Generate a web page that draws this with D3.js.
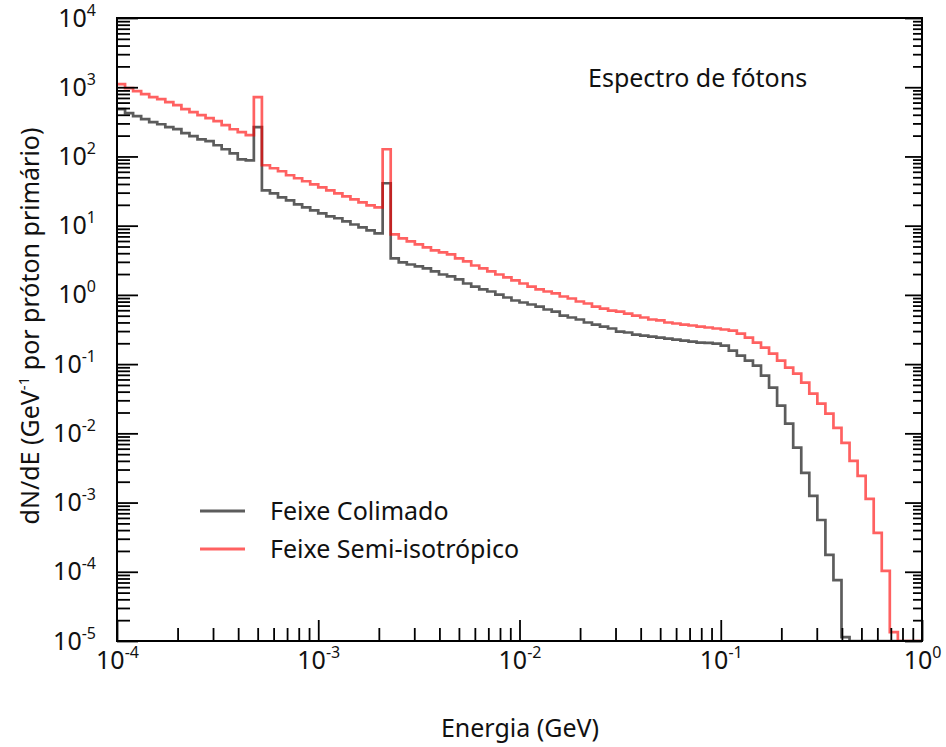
<!DOCTYPE html>
<html>
<head>
<meta charset="utf-8">
<script src="https://cdn.jsdelivr.net/npm/d3@7"></script>
<style>
    body { margin: 0; background: #fff; }
    svg text { font-family: "Noto Sans", sans-serif; fill: #111; }
</style>
</head>
<body>
<svg id="chart" width="946" height="747"></svg>
<script>
// histogram binning: 100 log-spaced bins between 1e-4 and 1 GeV
const binRange = [1e-4, 1];
const binCount = 100;

// bin contents (dN/dE per primary proton)
const colimado = [
    482, 422, 382, 345, 313, 292, 265, 248, 217, 196,
    177, 166, 145, 127, 111, 91, 88, 265, 32.4, 29.3,
    25.7, 23.2, 20.3, 18.4, 16.6, 15.1, 13.6, 12.8, 11.5, 10.4,
    9.45, 8.55, 7.74, 41, 3.36, 2.94, 2.75, 2.58, 2.41, 2.18,
    1.97, 1.85, 1.67, 1.46, 1.32, 1.20, 1.12, 1.01, 0.917, 0.830,
    0.776, 0.726, 0.679, 0.615, 0.575, 0.503, 0.471, 0.441, 0.399, 0.373,
    0.349, 0.327, 0.295, 0.286, 0.267, 0.258, 0.250, 0.242, 0.234, 0.226,
    0.219, 0.211, 0.205, 0.202, 0.198, 0.185, 0.157, 0.133, 0.112, 0.095,
    0.068, 0.0457, 0.0251, 0.0138, 0.0062, 0.00269, 0.00125, 5.6e-4, 1.75e-4, 7.6e-5,
    1.14e-5, 0, 0, 0, 0, 0, 0, 0, 0, 0
];

const semiIsotropico = [
    1109, 971, 879, 794, 719, 673, 609, 551, 482, 436,
    394, 357, 323, 283, 247, 224, 203, 719, 74.6, 67.5,
    61.1, 53.5, 48.4, 43.8, 39.6, 35.8, 32.4, 29.3, 26.5, 24.0,
    21.7, 19.7, 18.4, 127, 7.48, 6.55, 5.93, 5.36, 4.85, 4.39,
    4.10, 3.84, 3.36, 3.04, 2.66, 2.41, 2.18, 1.97, 1.79, 1.62,
    1.46, 1.32, 1.20, 1.12, 1.05, 0.948, 0.887, 0.802, 0.751, 0.679,
    0.635, 0.594, 0.575, 0.538, 0.503, 0.471, 0.441, 0.427, 0.399, 0.386,
    0.373, 0.361, 0.349, 0.338, 0.327, 0.316, 0.305, 0.276, 0.242, 0.205,
    0.173, 0.142, 0.112, 0.0889, 0.0728, 0.0539, 0.0374, 0.0268, 0.0192, 0.0120,
    0.0073, 0.00401, 0.00243, 0.00113, 3.64e-4, 1.03e-4, 1.34e-5, 0, 0, 0
];

const seriesNames = ['Feixe Colimado', 'Feixe Semi-isotrópico'];
const seriesColors = ['rgba(0,0,0,0.64)', 'rgba(255,0,0,0.62)'];
const xTickExponents = [-4, -3, -2, -1, 0];
const yTickExponents = [-5, -4, -3, -2, -1, 0, 1, 2, 3, 4];
const title = 'Espectro de fótons';

const svg = d3.select('#chart');
const frame = { left: 117, right: 922, top: 18, bottom: 641 };

const x = d3.scaleLog().domain(binRange).range([frame.left, frame.right]);
const y = d3.scaleLog().domain([1e-5, 1e4]).range([frame.bottom, frame.top]).clamp(true);

// bin edges of the histogram
const edges = d3.range(binCount + 1).map(i => binRange[0] * Math.pow(binRange[1] / binRange[0], i / binCount));

svg.append('clipPath').attr('id', 'plot-clip')
    .append('rect')
    .attr('x', frame.left).attr('y', frame.top)
    .attr('width', frame.right - frame.left).attr('height', frame.bottom - frame.top);

const step = d3.line()
    .curve(d3.curveStepAfter)
    .x(d => x(d[0]))
    .y(d => y(Math.max(d[1], 1e-7)));

[colimado, semiIsotropico].forEach((values, s) => {
    const pts = values.map((v, i) => [edges[i], v]);
    pts.push([edges[binCount], values[binCount - 1]]);
    svg.append('path')
        .datum(pts)
        .attr('clip-path', 'url(#plot-clip)')
        .attr('fill', 'none')
        .attr('stroke', seriesColors[s])
        .attr('stroke-width', 2.7)
        .attr('d', step);
});

// minor tick positions (2..9 in every decade)
const yMinor = d3.range(-5, 4).flatMap(e => d3.range(2, 10).map(m => m * Math.pow(10, e)));
const xMinor = d3.range(-4, 0).flatMap(e => d3.range(2, 10).map(m => m * Math.pow(10, e)));
const yMajor = yTickExponents.map(e => Math.pow(10, e));
const xMajor = xTickExponents.map(e => Math.pow(10, e));

function styleAxis (g) {
    g.attr('font-size', null).attr('font-family', null);
    g.select('.domain').remove();
    g.selectAll('line').attr('stroke', '#000').attr('stroke-width', 1.8);
}

function powerLabel (g) {
    g.selectAll('text').each(function (d) {
        const t = d3.select(this).style('font-size', '25px');
        t.append('tspan').text('10');
        t.append('tspan')
            .attr('dy', '-11')
            .style('font-size', '16px')
            .text(Math.round(Math.log10(d)));
    });
}

// left axis
svg.append('g').attr('transform', `translate(${frame.left},0)`)
    .call(d3.axisLeft(y).tickValues(yMinor).tickSize(-13).tickFormat(''))
    .call(styleAxis);
svg.append('g').attr('transform', `translate(${frame.left},0)`)
    .call(d3.axisLeft(y).tickValues(yMajor).tickSize(-21).tickPadding(21).tickFormat(''))
    .call(styleAxis)
    .call(powerLabel);

// right axis
svg.append('g').attr('transform', `translate(${frame.right},0)`)
    .call(d3.axisRight(y).tickValues(yMinor).tickSize(-9).tickFormat(''))
    .call(styleAxis);
svg.append('g').attr('transform', `translate(${frame.right},0)`)
    .call(d3.axisRight(y).tickValues(yMajor).tickSize(-17).tickFormat(''))
    .call(styleAxis);

// bottom axis
svg.append('g').attr('transform', `translate(0,${frame.bottom})`)
    .call(d3.axisBottom(x).tickValues(xMinor).tickSize(-13).tickFormat(''))
    .call(styleAxis);
svg.append('g').attr('transform', `translate(0,${frame.bottom})`)
    .call(d3.axisBottom(x).tickValues(xMajor).tickSize(-21).tickPadding(10).tickFormat(''))
    .call(styleAxis)
    .call(powerLabel);

// frame
svg.append('rect')
    .attr('x', frame.left).attr('y', frame.top)
    .attr('width', frame.right - frame.left).attr('height', frame.bottom - frame.top)
    .attr('fill', 'none')
    .attr('stroke', '#000')
    .attr('stroke-width', 2);

// axis titles
svg.append('text')
    .attr('x', 520)
    .attr('y', 737)
    .attr('text-anchor', 'middle')
    .style('font-size', '25px')
    .text('Energia (GeV)');

const yTitle = svg.append('text')
    .attr('transform', 'translate(39,326) rotate(-90)')
    .attr('text-anchor', 'middle')
    .style('font-size', '25px');
yTitle.append('tspan').text('dN/dE (GeV');
yTitle.append('tspan').attr('dy', -10).style('font-size', '15px').text('-1');
yTitle.append('tspan').attr('dy', 10).text(' por próton primário)');

// title inside the frame
svg.append('text')
    .attr('x', 588).attr('y', 87)
    .style('font-size', '25px')
    .text(title);

// legend
const legend = svg.append('g').selectAll('g')
    .data(seriesNames).enter()
    .append('g')
    .attr('transform', (d, i) => `translate(200,${511 + i * 38})`);
legend.append('line')
    .attr('x1', 0).attr('x2', 45)
    .attr('stroke', (d, i) => seriesColors[i])
    .attr('stroke-width', 3);
legend.append('text')
    .attr('x', 70).attr('y', 9)
    .style('font-size', '25px')
    .text(d => d);
</script>
</body>
</html>
